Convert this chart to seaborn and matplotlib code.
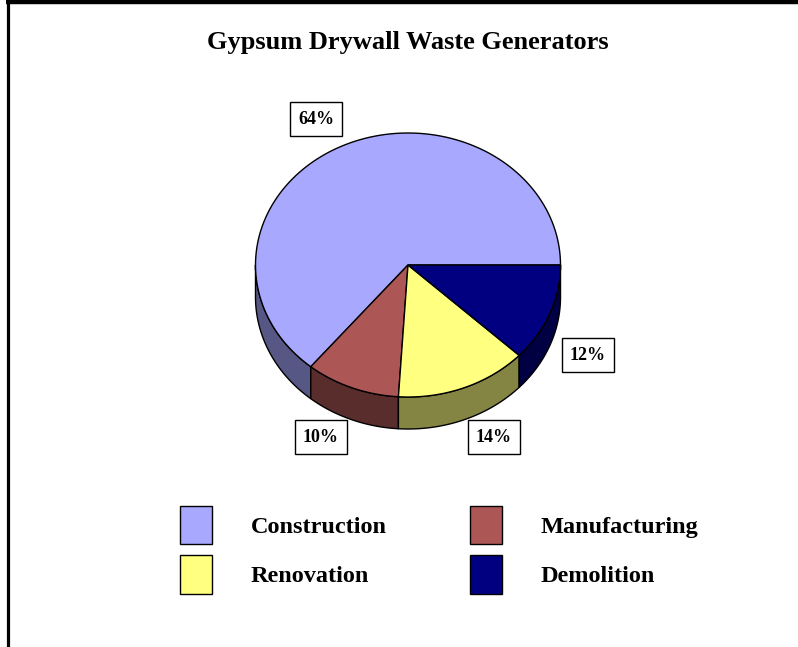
import numpy as np
import matplotlib
matplotlib.use("Agg")
import matplotlib.pyplot as plt
import matplotlib.patches as mpatches
import seaborn as sns

# data
categories = ["Construction", "Manufacturing", "Renovation", "Demolition"]
shares = [64, 10, 14, 12]
top_colours = ["#A8A8FF", "#AD5656", "#FFFF80", "#000080"]
title = "Gypsum Drywall Waste Generators"

# layout (pixel space, y measured from the top of the image)
W, H = 798, 647
cx, cy = 408, 265
rx, ry = 152.5, 132
depth = 32
label_pos = [(316, 119), (321, 437), (494, 437), (588, 355)]

sns.set_theme(style="white")
plt.rcParams["font.family"] = ["Liberation Serif", "DejaVu Serif"]
plt.rcParams["text.color"] = "black"

palette = sns.color_palette(top_colours)
side_palette = [tuple(c * 0.52 for c in col) for col in palette]

fig = plt.figure(figsize=(W / 100, H / 100), dpi=100)
ax = fig.add_axes([0, 0, 1, 1])
ax.set_xlim(0, W)
ax.set_ylim(0, H)
ax.axis("off")

ox, oy = cx, H - cy
bounds = np.concatenate([[0], np.cumsum(shares)]) / sum(shares) * 360


def arc(t0, t1, drop=0.0):
    t = np.radians(np.linspace(t0, t1, 120))
    return np.column_stack([ox + rx * np.cos(t), oy + ry * np.sin(t) - drop])


# front side walls (only the lower half of the ellipse is visible)
for i in range(len(shares)):
    t0, t1 = max(bounds[i], 180), min(bounds[i + 1], 360)
    if t1 <= t0:
        continue
    top = arc(t0, t1)
    bottom = arc(t0, t1, depth)[::-1]
    ax.add_patch(mpatches.Polygon(np.vstack([top, bottom]), closed=True,
                                  facecolor=side_palette[i], edgecolor="black", lw=1.0))

# top faces
for i in range(len(shares)):
    pts = np.vstack([[ox, oy], arc(bounds[i], bounds[i + 1])])
    ax.add_patch(mpatches.Polygon(pts, closed=True, facecolor=palette[i],
                                  edgecolor="black", lw=1.0, joinstyle="miter"))

# percentage labels
for share, (lx, ly) in zip(shares, label_pos):
    ax.text(lx, H - ly, f"{share}%", ha="center", va="center", fontsize=13,
            fontweight="bold", color="black",
            bbox=dict(boxstyle="square,pad=0.45", facecolor="white",
                      edgecolor="black", lw=1.0))

ax.text(408, H - 42, title, ha="center", va="center", fontsize=19,
        fontweight="bold", color="black")

handles = [mpatches.Patch(facecolor=palette[i], edgecolor="black", lw=1.0,
                          label=categories[i]) for i in range(len(categories))]
# legend is filled column-wise, reorder so rows read Construction/Manufacturing
order = [0, 2, 1, 3]
leg = fig.legend(handles=[handles[k] for k in order], ncol=2, frameon=False,
                 loc="upper left", bbox_to_anchor=(180 / W, 1 - 506 / H),
                 handlelength=1.32, handleheight=2.05,
                 handletextpad=1.6, columnspacing=3.4, labelspacing=0.45,
                 borderpad=0, borderaxespad=0, prop={"weight": "bold", "size": 17.5})
for t in leg.get_texts():
    t.set_color("black")

# partial frame: left and top edges
ax.plot([7.5, 7.5], [0, H], color="black", lw=2.3, solid_capstyle="butt")
ax.plot([6, W], [H - 2, H - 2], color="black", lw=3.2, solid_capstyle="butt")

fig.savefig("out.png", dpi=100, facecolor="white")
